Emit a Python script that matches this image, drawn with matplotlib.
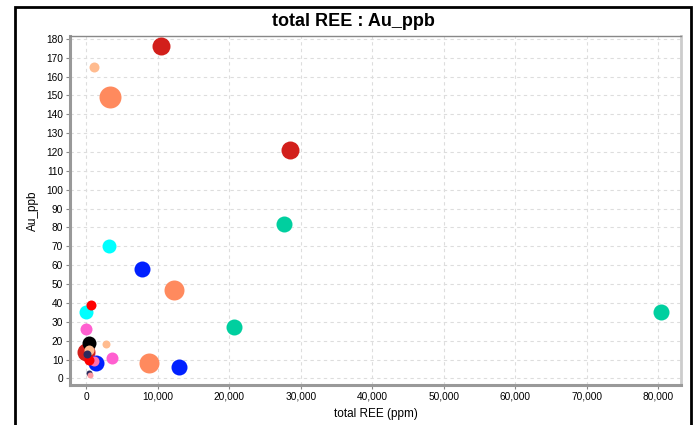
"""
Bubble scatter: total REE vs Au_ppb
"""
import matplotlib.pyplot as plt
from matplotlib.patches import Rectangle
from matplotlib.ticker import FuncFormatter, MultipleLocator

plt.rcParams['font.family'] = ['Liberation Sans', 'DejaVu Sans']

# data
total_ree = [10500, 1000, 3350, 28500, 27700, 3100, 7800, 12300, 20600, 80400,
             600, 0, 0, 300, 2800, 0, 400, 100, 3600, 1400,
             1100, 400, 8700, 12900, 300, 500]
au_ppb = [176, 165, 149, 121, 82, 70, 58, 47, 27, 35,
          39, 35, 26, 19, 18, 14, 15, 13, 11, 8,
          9, 9.5, 8, 6, 3, 2]
radius_px = [9, 5, 11, 9, 8, 7, 8, 10, 8, 8,
             5, 7, 6, 7, 4, 9, 5, 4, 6, 8,
             5, 5, 10, 8, 3, 3]
colors = ['#d21f1b', '#ffbb8f', '#ff8a5e', '#d21f1b', '#00cf9f', '#00ffff', '#0020ff',
          '#ff8a5e', '#00cf9f', '#00cf9f', '#ff0000', '#00ffff', '#ff5fd0', '#000000',
          '#ffbb8f', '#d21f1b', '#ffbb8f', '#2b2b5e', '#ff5fd0', '#0020ff',
          '#ff6fb0', '#ff0000', '#ff8a5e', '#0020ff', '#2b2b5e', '#ff9aa0']

fig = plt.figure(figsize=(6.96, 4.25), dpi=100)
ax = fig.add_axes([70/696, 1-385/425, 611/696, 349/425])

# outer frame
fig.patches.append(Rectangle((15/696, -0.05), 676/696, 1.05-7/425, transform=fig.transFigure,
                             fill=False, edgecolor='black', linewidth=2))

order = sorted(range(len(total_ree)), key=lambda i: -radius_px[i])
for z, i in enumerate(order):
    s = (2 * radius_px[i] * 72 / 100) ** 2
    ax.scatter(total_ree[i], au_ppb[i], s=s, color=colors[i], linewidths=0, zorder=3 + z)

ax.set_xlim(-2300, 83200)
ax.set_ylim(-3.5, 181.5)
ax.xaxis.set_major_locator(MultipleLocator(10000))
ax.yaxis.set_major_locator(MultipleLocator(10))
ax.xaxis.set_major_formatter(FuncFormatter(lambda v, p: f"{int(v):,}"))
ax.grid(True, color='#dddddd', linestyle=(0, (3, 3)), linewidth=0.8)
ax.set_axisbelow(True)

for side in ['left', 'bottom']:
    ax.spines[side].set_color('#999999')
    ax.spines[side].set_linewidth(2.2)
ax.spines['top'].set_color('#888888')
ax.spines['top'].set_linewidth(1)
ax.spines['right'].set_color('#cccccc')
ax.spines['right'].set_linewidth(2)
ax.tick_params(length=3, width=0.8, color='#888888', labelsize=7.3, pad=2)

ax.set_xlabel('total REE (ppm)', fontsize=8.5, labelpad=4)
ax.set_ylabel('Au_ppb', fontsize=8.5, labelpad=5)
fig.text(353/696, 1-21/425, 'total REE : Au_ppb', ha='center', va='center',
         fontsize=13, fontweight='bold')

plt.savefig('out.png', dpi=100)
